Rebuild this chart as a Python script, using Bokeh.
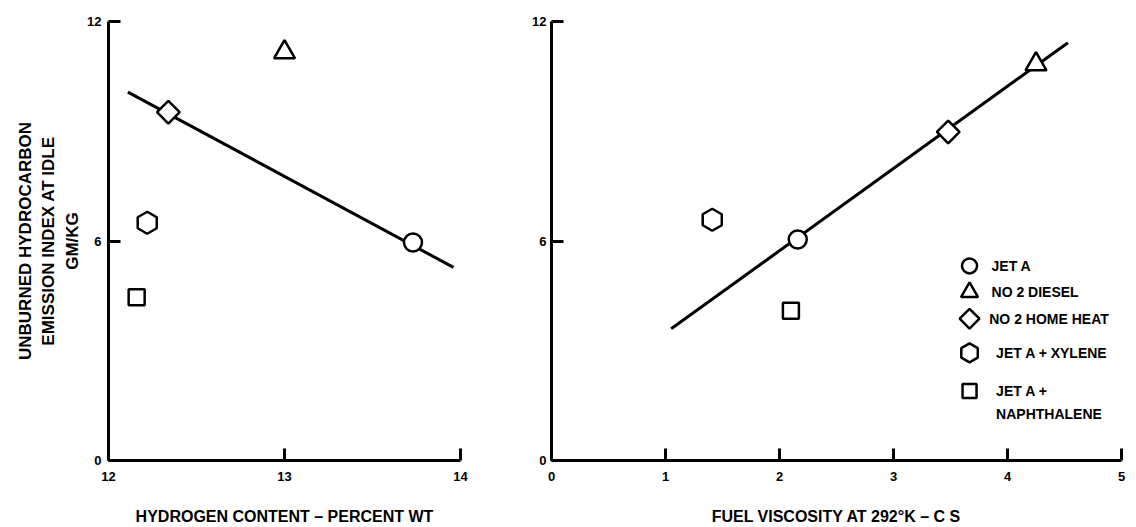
import math
from bokeh.plotting import figure
from bokeh.layouts import row
from bokeh.models import FixedTicker, Range1d, ColumnDataSource
from bokeh.embed import file_html
from bokeh.resources import INLINE
from bokeh.core.properties import value

# ---------------- data ----------------
fuels = ["JET A", "NO 2 DIESEL", "NO 2 HOME HEAT", "JET A + XYLENE", "JET A + NAPHTHALENE"]
hydrogen_pct = [13.73, 13.00, 12.34, 12.22, 12.16]
hc_index_h = [5.96, 11.16, 9.52, 6.50, 4.46]
viscosity_cs = [2.16, 4.25, 3.48, 1.41, 2.10]
hc_index_v = [6.04, 10.83, 8.98, 6.58, 4.09]
fit_h_x = [12.11, 13.96]
fit_h_y = [10.07, 5.28]
fit_v_x = [1.05, 4.53]
fit_v_y = [3.60, 11.42]
h_ticks = [12, 13, 14]
v_ticks = [0, 1, 2, 3, 4, 5]
hc_ticks = [0, 6, 12]
legend_lines = [["JET A"], ["NO 2 DIESEL"], ["NO 2 HOME HEAT"], ["JET A + XYLENE"], ["JET A +", "NAPHTHALENE"]]

# ---------------- styles / layout ----------------
FONT = "Liberation Sans"
marker_type = ["circle", "triangle", "square", "hex", "square"]
marker_size = [18, 21, 16, 22, 16]
marker_angle = [0, 0, math.pi / 4, math.pi / 2, 0]
legend_size = [15, 17, 14, 19, 14]
legend_key_x = 3.667
legend_key_y = [5.32, 4.60, 3.875, 2.94, 1.90]
legend_text_x = [3.86, 3.86, 3.84, 3.90, 3.90]
legend_line_step = 0.64


def style(p):
    p.outline_line_color = None
    p.grid.visible = False
    for ax in p.axis:
        ax.axis_line_width = 3
        ax.axis_line_color = "black"
        ax.major_tick_in = 12
        ax.major_tick_out = 0
        ax.major_tick_line_width = 3
        ax.major_tick_line_color = "black"
        ax.minor_tick_line_color = None
        ax.major_label_text_font = FONT
        ax.major_label_text_font_style = "bold"
        ax.major_label_text_font_size = "13px"
        ax.major_label_text_color = "black"
        ax.axis_label_text_font = FONT
        ax.axis_label_text_font_style = "bold"
        ax.axis_label_text_font_size = "16px"
        ax.axis_label_text_color = "black"


# ---------------- left panel ----------------
p1 = figure(width=520, height=527, x_range=Range1d(12, 14), y_range=Range1d(0, 12),
            output_backend="svg", toolbar_location=None,
            min_border_left=108, min_border_right=60, min_border_top=21, min_border_bottom=65)
style(p1)
p1.xaxis.ticker = FixedTicker(ticks=h_ticks)
p1.yaxis.ticker = FixedTicker(ticks=hc_ticks)
p1.xaxis.major_label_standoff = 11
p1.yaxis.major_label_standoff = 7
p1.xaxis.axis_label = "HYDROGEN CONTENT \u2013 PERCENT WT"
p1.xaxis.axis_label_standoff = 24
p1.yaxis.axis_label = "UNBURNED HYDROCARBON\nEMISSION INDEX AT IDLE\nGM/KG"
p1.yaxis.axis_label_standoff = 2
p1.yaxis.axis_label_text_font_size = "17px"
p1.yaxis.axis_label_text_line_height = 1.25

p1.line(fit_h_x, fit_h_y, line_color="black", line_width=3)
src1 = ColumnDataSource(dict(x=hydrogen_pct, y=hc_index_h, marker=marker_type,
                             size=marker_size, angle=marker_angle, fuel=fuels))
p1.scatter(x="x", y="y", marker="marker", size="size", angle="angle", source=src1,
           fill_color="white", line_color="black", line_width=2.5)

# ---------------- right panel ----------------
p2 = figure(width=616, height=527, x_range=Range1d(0, 5), y_range=Range1d(0, 12),
            output_backend="svg", toolbar_location=None,
            min_border_left=31, min_border_right=15, min_border_top=14, min_border_bottom=64)
style(p2)
p2.xaxis.ticker = FixedTicker(ticks=v_ticks)
p2.yaxis.ticker = FixedTicker(ticks=hc_ticks)
p2.xaxis.major_label_standoff = 11
p2.yaxis.major_label_standoff = 5
p2.xaxis.axis_label = "FUEL VISCOSITY AT 292\u00b0K \u2013 C S"
p2.xaxis.axis_label_standoff = 24

p2.line(fit_v_x, fit_v_y, line_color="black", line_width=3)
src2 = ColumnDataSource(dict(x=viscosity_cs, y=hc_index_v, marker=marker_type,
                             size=marker_size, angle=marker_angle, fuel=fuels))
p2.scatter(x="x", y="y", marker="marker", size="size", angle="angle", source=src2,
           fill_color="white", line_color="black", line_width=2.5)

# legend keys
srcL = ColumnDataSource(dict(x=[legend_key_x] * len(fuels), y=legend_key_y, marker=marker_type,
                             size=legend_size, angle=marker_angle))
p2.scatter(x="x", y="y", marker="marker", size="size", angle="angle", source=srcL,
           fill_color="white", line_color="black", line_width=2.5)
tx, ty, tt = [], [], []
for i, lines in enumerate(legend_lines):
    for j, t in enumerate(lines):
        tx.append(legend_text_x[i])
        ty.append(legend_key_y[i] - j * legend_line_step)
        tt.append(t)
p2.text(x=tx, y=ty, text=tt, text_font=value(FONT), text_font_style="bold",
        text_font_size="14px", text_baseline="middle", text_align="left", text_color="black")

layout = row(p1, p2)
open("out.html", "w").write(file_html(layout, INLINE))
